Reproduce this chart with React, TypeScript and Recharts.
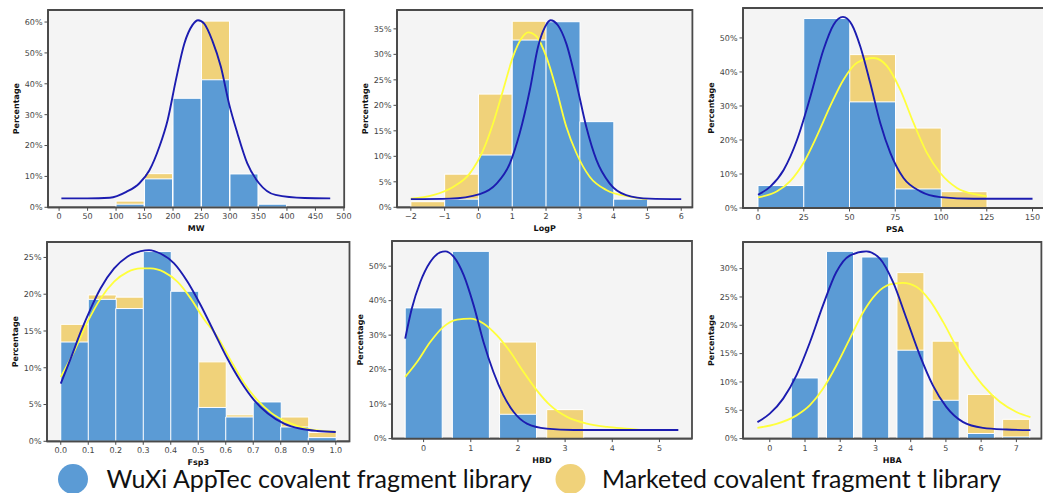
import React from 'react';
import { ComposedChart, Bar, Line, XAxis, YAxis, CartesianGrid, ReferenceArea } from 'recharts';

type Pt = [number, number];

// ---------- colours ----------
const BLUE_BAR = '#5b9bd5';
const YELLOW_BAR = '#f0d27a';
const BLUE_LINE = '#1c1cb0';
const YELLOW_LINE = '#ffff3c';

// ---------- MW ----------
const mwBins = ['100-150', '150-200', '200-250', '250-300', '300-350', '350-400'];
const mwWuxi = [1.0, 9.2, 35.3, 41.3, 10.8, 1.0];
const mwMarketed = [2.0, 10.9, 26.5, 60.3, 0.3, 0];
const mwTicks = [0, 50, 100, 150, 200, 250, 300, 350, 400, 450, 500];
const mwYTicks = [0, 10, 20, 30, 40, 50, 60];
const mwWuxiCurve: Pt[] = [[4, 2.9], [50, 2.9], [89, 3.1], [118, 5.0], [141, 7.8], [158.6, 12], [176, 19.6], [190.6, 28.3], [205, 41.2], [219.8, 53], [234, 59], [244, 60.6], [254.7, 59.5], [269, 54], [284, 45.5], [298.4, 33.5], [313, 24], [330.4, 14.2], [351, 7.8], [380, 4], [431, 3], [476, 2.9]];

// ---------- LogP ----------
const logpBins = ['-2', '-1', '0', '1', '2', '3', '4'];
const logpWuxi = [0, 1.6, 10.25, 32.8, 36.4, 16.8, 1.6];
const logpMarketed = [1.1, 6.5, 22.2, 36.5, 24.0, 8.5, 1.2];
const logpTicks = [-2, -1, 0, 1, 2, 3, 4, 5, 6];
const logpYTicks = [0, 5, 10, 15, 20, 25, 30, 35];
const logpWuxiCurve: Pt[] = [[-2, 1.6], [-0.85, 1.7], [0.04, 2.6], [0.53, 4.6], [0.93, 8.6], [1.22, 14.5], [1.52, 23], [1.76, 31.4], [1.97, 35.4], [2.13, 36.7], [2.35, 35.7], [2.6, 32.1], [2.9, 24.3], [3.19, 15.8], [3.49, 9.3], [3.88, 4.7], [4.37, 2.4], [5.06, 1.7], [6, 1.6]];
const logpMarketedCurve: Pt[] = [[-2, 1.7], [-1.34, 2.4], [-0.75, 4], [-0.26, 6.6], [0.14, 11.2], [0.43, 16.4], [0.73, 23], [1.02, 29.5], [1.27, 33.1], [1.47, 34.3], [1.72, 33.5], [2.01, 29.5], [2.31, 23], [2.6, 15.8], [2.9, 10.6], [3.29, 6], [3.78, 3.4], [4.47, 2.1], [5, 1.6]];

// ---------- PSA ----------
const psaBins = ['0-25', '25-50', '50-75', '75-100', '100-125'];
const psaWuxi = [6.6, 55.7, 31.2, 5.6, 0];
const psaMarketed = [3.0, 23.6, 45.1, 23.5, 4.8];
const psaTicks = [0, 25, 50, 75, 100, 125, 150];
const psaYTicks = [0, 10, 20, 30, 40, 50];
const psaWuxiCurve: Pt[] = [[0, 3.9], [6.7, 6.3], [14, 11.2], [21.3, 20], [28.6, 32.7], [35.8, 46.6], [41.3, 53.9], [46.4, 56.2], [51.3, 53.9], [55.9, 47.5], [61.3, 36.8], [66.8, 25], [72.3, 16.2], [79.5, 8.8], [88.7, 4.9], [99.6, 3.2], [117.8, 2.7], [150, 2.7]];
const psaMarketedCurve: Pt[] = [[0, 3.1], [10.4, 4.9], [17.6, 7.9], [24.9, 13.3], [32.2, 21.2], [39.5, 30], [46.8, 37.8], [54.1, 42.7], [63.2, 44.1], [70.5, 41.7], [77.7, 34.8], [85, 25], [92.3, 16.2], [99.6, 10.3], [108.7, 5.9], [119.6, 3.9], [125, 3.4]];

// ---------- Fsp3 ----------
const fspBins = ['0.0', '0.1', '0.2', '0.3', '0.4', '0.5', '0.6', '0.7', '0.8', '0.9'];
const fspWuxi = [13.5, 19.3, 18.05, 25.8, 20.4, 4.6, 3.3, 5.35, 1.95, 0.5];
const fspMarketed = [15.9, 19.9, 19.6, 12.0, 11.0, 10.8, 3.6, 2.7, 3.3, 1.2];
const fspTicks = [0, 0.1, 0.2, 0.3, 0.4, 0.5, 0.6, 0.7, 0.8, 0.9, 1.0];
const fspYTicks = [0, 5, 10, 15, 20, 25];
const fspWuxiCurve: Pt[] = [[0, 7.85], [0.036, 11.25], [0.073, 14.9], [0.109, 18.05], [0.145, 20.8], [0.194, 23.5], [0.242, 25.1], [0.291, 25.85], [0.321, 26], [0.364, 25.5], [0.412, 24.2], [0.461, 21.7], [0.509, 18.5], [0.557, 14.9], [0.606, 11.25], [0.655, 8.1], [0.703, 5.6], [0.752, 3.8], [0.812, 2.4], [0.873, 1.7], [0.933, 1.4], [1, 1.27]];
const fspMarketedCurve: Pt[] = [[0, 8.75], [0.048, 12.15], [0.097, 16.2], [0.145, 19.4], [0.194, 21.7], [0.242, 23], [0.291, 23.5], [0.327, 23.5], [0.376, 23], [0.424, 21.7], [0.473, 19.4], [0.521, 16.6], [0.57, 14.2], [0.618, 11.0], [0.667, 7.9], [0.715, 5.6], [0.764, 3.9], [0.824, 2.6], [0.897, 1.7], [1, 1.3]];

// ---------- HBD ----------
const hbdBins = ['0', '1', '2', '3'];
const hbdWuxi = [37.9, 54.3, 7.05, 0];
const hbdMarketed = [26.0, 37.6, 28.0, 8.4];
const hbdTicks = [0, 1, 2, 3, 4, 5];
const hbdYTicks = [0, 10, 20, 30, 40, 50];
const hbdWuxiCurve: Pt[] = [[-0.39, 29], [-0.25, 37.7], [-0.07, 45.4], [0.14, 51.2], [0.35, 54], [0.46, 54.3], [0.64, 52.7], [0.85, 47.4], [1.06, 38.7], [1.27, 28], [1.48, 19.3], [1.69, 12.6], [1.91, 7.7], [2.19, 4.35], [2.61, 2.9], [3.18, 2.5], [4.3, 2.5], [5.4, 2.5]];
const hbdMarketedCurve: Pt[] = [[-0.39, 17.9], [-0.14, 22.2], [0.14, 28], [0.42, 32.4], [0.71, 34.5], [0.99, 34.8], [1.27, 33.4], [1.55, 30], [1.84, 25.1], [2.12, 19.3], [2.4, 14], [2.68, 9.7], [3.04, 6.3], [3.46, 4.35], [3.89, 3.4], [4.38, 2.8], [4.59, 2.5]];

// ---------- HBA ----------
const hbaBins = ['1', '2', '3', '4', '5', '6', '7'];
const hbaWuxi = [10.7, 33.05, 32.05, 15.6, 6.76, 0.9, 0.3];
const hbaMarketed = [4.0, 12.0, 26.0, 29.3, 17.2, 7.8, 3.4];
const hbaTicks = [0, 1, 2, 3, 4, 5, 6, 7];
const hbaYTicks = [0, 5, 10, 15, 20, 25, 30];
const hbaWuxiCurve: Pt[] = [[-0.35, 2.9], [0, 4.4], [0.38, 7.06], [0.76, 11.2], [1.14, 17], [1.51, 23.5], [1.89, 29.4], [2.27, 32.3], [2.74, 33.05], [3.12, 31.8], [3.5, 27.6], [3.88, 21.2], [4.26, 14.7], [4.63, 9.4], [5.01, 5.6], [5.49, 2.9], [6.05, 1.9], [6.72, 1.6], [7.4, 1.5]];
const hbaMarketedCurve: Pt[] = [[-0.35, 1.9], [0.19, 2.6], [0.76, 4.1], [1.14, 5.9], [1.51, 8.8], [1.89, 12.9], [2.27, 17.6], [2.65, 22.3], [3.03, 25.6], [3.41, 27.2], [3.78, 27.5], [4.16, 26.8], [4.54, 24.4], [4.92, 20.6], [5.3, 16.2], [5.68, 12.4], [6.05, 9.4], [6.53, 6.5], [7, 4.7], [7.4, 3.8]];

// ---------- legend ----------
const legendLabels = ['WuXi AppTec covalent fragment library', 'Marketed covalent fragment t library'];

type PanelCfg = {
  frame: [number, number, number, number];
  xDomain: [number, number];
  yMax: number;
  xTicks: number[];
  yTicks: number[];
  fmt: (v: number) => string;
  xLabel: string;
  bins: string[];
  binRange: [number, number];
  wuxi: number[];
  marketed: number[];
  gap: string | number;
  wuxiCurve: Pt[];
  marketedCurve: Pt[] | null;
};

const intFmt = (v: number) => (v < 0 ? '\u2212' + Math.abs(v) : String(v));
const decFmt = (v: number) => v.toFixed(1);

const panels: PanelCfg[] = [
  { frame: [48.3, 10, 344.5, 207.3], xDomain: [-19.5, 500.5], yMax: 63.9, xTicks: mwTicks, yTicks: mwYTicks, fmt: intFmt, xLabel: 'MW', bins: mwBins, binRange: [100, 400], wuxi: mwWuxi, marketed: mwMarketed, gap: 0, wuxiCurve: mwWuxiCurve, marketedCurve: null },
  { frame: [397.3, 10, 692.7, 207.3], xDomain: [-2.41, 6.33], yMax: 38.7, xTicks: logpTicks, yTicks: logpYTicks, fmt: intFmt, xLabel: 'LogP', bins: logpBins, binRange: [-2, 5], wuxi: logpWuxi, marketed: logpMarketed, gap: 0, wuxiCurve: logpWuxiCurve, marketedCurve: logpMarketedCurve },
  { frame: [742.7, 8.3, 1046.5, 208.3], xDomain: [-8.2, 157.8], yMax: 58.8, xTicks: psaTicks, yTicks: psaYTicks, fmt: intFmt, xLabel: 'PSA', bins: psaBins, binRange: [0, 125], wuxi: psaWuxi, marketed: psaMarketed, gap: 0, wuxiCurve: psaWuxiCurve, marketedCurve: psaMarketedCurve },
  { frame: [46.5, 241.7, 349, 441], xDomain: [-0.05, 1.05], yMax: 27.1, xTicks: fspTicks, yTicks: fspYTicks, fmt: decFmt, xLabel: 'Fsp3', bins: fspBins, binRange: [0, 1], wuxi: fspWuxi, marketed: fspMarketed, gap: 0, wuxiCurve: fspWuxiCurve, marketedCurve: fspMarketedCurve },
  { frame: [391.7, 240.7, 691.7, 438.3], xDomain: [-0.67, 5.69], yMax: 57.3, xTicks: hbdTicks, yTicks: hbdYTicks, fmt: intFmt, xLabel: 'HBD', bins: hbdBins, binRange: [-0.5, 3.5], wuxi: hbdWuxi, marketed: hbdMarketed, gap: '11%', wuxiCurve: hbdWuxiCurve, marketedCurve: hbdMarketedCurve },
  { frame: [743.3, 241.7, 1041.7, 438.3], xDomain: [-0.76, 7.71], yMax: 34.7, xTicks: hbaTicks, yTicks: hbaYTicks, fmt: intFmt, xLabel: 'HBA', bins: hbaBins, binRange: [0.5, 7.5], wuxi: hbaWuxi, marketed: hbaMarketed, gap: '11%', wuxiCurve: hbaWuxiCurve, marketedCurve: hbaMarketedCurve },
];

const FONT = '"DejaVu Sans", sans-serif';
const WY = 40;
const HX = 28;
const MT = 2;
const MR = 12;
const FRAME = '#4a4a4a';

const YLabel = (props: any) => {
  const vb = props.viewBox || {};
  const x = (vb.x ?? 0) + 8.5;
  const y = (vb.y ?? MT) + (vb.height ?? 0) / 2;
  return (
    <text x={x} y={y} transform={`rotate(-90 ${x} ${y})`} textAnchor="middle" dominantBaseline="central"
      fontSize={8} fontWeight="bold" fill="#111" fontFamily={FONT}>Percentage</text>
  );
};

const toRows = (pts: Pt[]) => pts.map(([x, y]) => ({ x, y }));

function Panel({ cfg }: { cfg: PanelCfg }) {
  const [l, t, r, b] = cfg.frame;
  const fw = r - l;
  const fh = b - t;
  const [d0, d1] = cfg.xDomain;
  const span = d1 - d0;
  const padL = ((cfg.binRange[0] - d0) / span) * fw;
  const padR = ((d1 - cfg.binRange[1]) / span) * fw;
  const rows = cfg.bins.map((bin, i) => ({ bin, wuxi: cfg.wuxi[i], marketed: cfg.marketed[i] }));
  return (
    <div style={{ position: 'absolute', left: l - WY, top: t - MT }}>
      <ComposedChart width={WY + fw + MR} height={MT + fh + HX} data={rows}
        margin={{ top: MT, right: MR, bottom: 0, left: 0 }} barCategoryGap={cfg.gap as any}
        style={{ fontFamily: FONT }}>
        <CartesianGrid horizontal={false} vertical={false} fill="#f4f4f4" stroke="none" />
        <XAxis xAxisId={0} type="number" dataKey="x" domain={[d0, d1]} allowDataOverflow ticks={cfg.xTicks}
          tickFormatter={cfg.fmt} interval={0} height={HX} tickSize={3.5} tickMargin={3}
          tick={{ fill: '#444', fontSize: 8, fontFamily: FONT }} tickLine={{ stroke: FRAME }}
          axisLine={{ stroke: FRAME, strokeWidth: 1.8 }}
          label={{ value: cfg.xLabel, position: 'insideBottom', offset: 4, fontSize: 8, fontWeight: 'bold', fill: '#111', fontFamily: FONT }} />
        <XAxis xAxisId="binsM" type="category" dataKey="bin" hide padding={{ left: padL, right: padR }} />
        <XAxis xAxisId="binsW" type="category" dataKey="bin" hide padding={{ left: padL, right: padR }} />
        <YAxis yAxisId={0} type="number" domain={[0, cfg.yMax]} allowDataOverflow ticks={cfg.yTicks}
          tickFormatter={(v: number) => `${v}%`} interval={0} width={WY} tickSize={3.5} tickMargin={2}
          tick={{ fill: '#444', fontSize: 8, fontFamily: FONT }} tickLine={{ stroke: FRAME }}
          axisLine={{ stroke: FRAME, strokeWidth: 1.8 }} label={<YLabel />} />
        <Bar xAxisId="binsM" yAxisId={0} dataKey="marketed" fill={YELLOW_BAR} stroke="#ffffff" strokeWidth={1} isAnimationActive={false} />
        <Bar xAxisId="binsW" yAxisId={0} dataKey="wuxi" fill={BLUE_BAR} stroke="#ffffff" strokeWidth={1} isAnimationActive={false} />
        {cfg.marketedCurve && (
          <Line xAxisId={0} yAxisId={0} data={toRows(cfg.marketedCurve)} dataKey="y" type="monotone"
            stroke={YELLOW_LINE} strokeWidth={1.8} dot={false} activeDot={false} isAnimationActive={false} />
        )}
        <Line xAxisId={0} yAxisId={0} data={toRows(cfg.wuxiCurve)} dataKey="y" type="monotone"
          stroke={BLUE_LINE} strokeWidth={1.9} dot={false} activeDot={false} isAnimationActive={false} />
        <ReferenceArea xAxisId={0} yAxisId={0} x1={d0} x2={d1} y1={0} y2={cfg.yMax} fill="none"
          fillOpacity={0} stroke={FRAME} strokeWidth={1.8} ifOverflow="visible" />
      </ComposedChart>
    </div>
  );
}

export default function App() {
  return (
    <div style={{ position: 'absolute', left: 0, top: 0, width: 1043, height: 493, overflow: 'hidden', background: '#ffffff' }}>
      <svg width={1043} height={493} style={{ position: 'absolute', left: 0, top: 0 }}>
        <circle cx={73} cy={479} r={15} fill={BLUE_BAR} />
        <text x={106.5} y={487.5} fontSize={25.5} fontFamily="Lato, 'Open Sans', sans-serif" fill="#111"
          textLength={425.5} lengthAdjust="spacingAndGlyphs">{legendLabels[0]}</text>
        <circle cx={570.5} cy={479} r={15} fill={YELLOW_BAR} />
        <text x={602} y={487.5} fontSize={25.5} fontFamily="Lato, 'Open Sans', sans-serif" fill="#111"
          textLength={399} lengthAdjust="spacingAndGlyphs">{legendLabels[1]}</text>
      </svg>
      {panels.map((p) => <Panel key={p.xLabel} cfg={p} />)}
    </div>
  );
}
